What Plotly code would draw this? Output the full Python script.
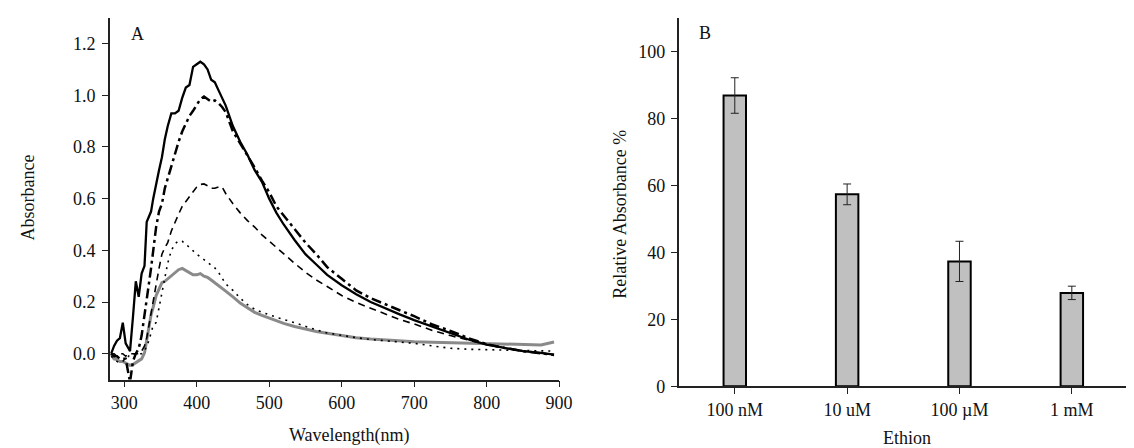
import plotly.graph_objects as go

# ---------------- Panel A data ----------------
wavelength = [282, 286, 290, 294, 298, 302, 306, 308, 312, 316, 320, 324, 328, 331, 334, 337, 340,
              344, 348, 352, 356, 360, 365, 370, 375, 380, 385, 390, 395, 400, 405, 410, 415, 420,
              425, 430, 435, 440, 450, 460, 470, 480, 490, 500, 510, 520, 535, 550, 565, 580, 600,
              620, 640, 660, 680, 700, 725, 750, 775, 800, 825, 850, 875, 893]

abs_solid = [0.00, 0.03, 0.05, 0.06, 0.12, 0.04, 0.02, 0.01, 0.14, 0.28, 0.22, 0.31, 0.34, 0.51, 0.53,
             0.55, 0.60, 0.66, 0.71, 0.76, 0.83, 0.88, 0.93, 0.93, 0.94, 0.99, 1.03, 1.04, 1.11, 1.12,
             1.13, 1.12, 1.10, 1.06, 1.05, 1.02, 0.99, 0.96, 0.88, 0.82, 0.77, 0.71, 0.665, 0.60,
             0.545, 0.50, 0.44, 0.385, 0.345, 0.305, 0.265, 0.23, 0.20, 0.175, 0.152, 0.13, 0.105,
             0.082, 0.055, 0.035, 0.022, 0.01, 0.003, -0.004]

abs_dashdot = [0.00, -0.01, -0.01, -0.02, -0.02, -0.02, -0.08, -0.11, -0.03, 0.00, 0.02, 0.07, 0.15,
               0.22, 0.27, 0.33, 0.41, 0.49, 0.55, 0.58, 0.64, 0.68, 0.73, 0.78, 0.82, 0.86, 0.89, 0.92,
               0.94, 0.96, 0.985, 0.995, 0.985, 0.975, 0.98, 0.97, 0.955, 0.935, 0.86, 0.815, 0.77,
               0.72, 0.67, 0.625, 0.57, 0.535, 0.48, 0.43, 0.385, 0.335, 0.29, 0.245, 0.215, 0.19,
               0.168, 0.145, 0.113, 0.088, 0.06, 0.037, 0.022, 0.01, 0.002, -0.005]

abs_dashed = [0.00, 0.00, -0.01, 0.00, 0.00, -0.01, 0.00, 0.00, 0.00, 0.00, 0.00, 0.01, 0.03, 0.06,
              0.11, 0.166, 0.21, 0.267, 0.33, 0.385, 0.41, 0.43, 0.475, 0.51, 0.54, 0.57, 0.59, 0.61,
              0.63, 0.645, 0.655, 0.657, 0.65, 0.64, 0.64, 0.645, 0.645, 0.62, 0.58, 0.545, 0.515,
              0.49, 0.46, 0.435, 0.41, 0.385, 0.35, 0.315, 0.285, 0.26, 0.225, 0.198, 0.175, 0.152,
              0.132, 0.115, 0.09, 0.07, 0.052, 0.035, 0.022, 0.01, 0.002, -0.004]

abs_dotted = [-0.01, -0.02, -0.03, -0.035, -0.03, -0.02, -0.01, 0.00, 0.00, 0.00, 0.00, 0.00, 0.01,
              0.03, 0.05, 0.08, 0.11, 0.12, 0.18, 0.24, 0.30, 0.35, 0.40, 0.425, 0.437, 0.435, 0.424,
              0.41, 0.40, 0.385, 0.375, 0.365, 0.352, 0.345, 0.332, 0.315, 0.29, 0.27, 0.245, 0.215,
              0.19, 0.172, 0.16, 0.15, 0.14, 0.132, 0.12, 0.105, 0.092, 0.08, 0.07, 0.062, 0.055,
              0.05, 0.045, 0.04, 0.03, 0.021, 0.017, 0.015, 0.013, 0.012, 0.011, 0.01]

abs_gray = [0.00, -0.02, -0.023, -0.03, -0.03, -0.035, -0.04, -0.045, -0.042, -0.035, -0.025, -0.02,
            0.003, 0.05, 0.11, 0.15, 0.18, 0.225, 0.25, 0.275, 0.28, 0.29, 0.30, 0.315, 0.325, 0.33,
            0.322, 0.315, 0.305, 0.305, 0.31, 0.30, 0.295, 0.285, 0.275, 0.265, 0.254, 0.242, 0.22,
            0.196, 0.178, 0.16, 0.148, 0.137, 0.127, 0.117, 0.105, 0.095, 0.086, 0.079, 0.07, 0.062,
            0.057, 0.053, 0.049, 0.046, 0.044, 0.042, 0.04, 0.038, 0.036, 0.035, 0.034, 0.045]

xticks_a = [300, 400, 500, 600, 700, 800, 900]
yticks_a = [0.0, 0.2, 0.4, 0.6, 0.8, 1.0, 1.2]

# ---------------- Panel B data ----------------
ethion_labels = ["100 nM", "10 uM", "100 µM", "1 mM"]
rel_abs = [86.8, 57.3, 37.3, 27.9]
rel_err = [5.3, 3.1, 6.0, 2.0]
yticks_b = [0, 20, 40, 60, 80, 100]

FONT = "Liberation Serif, Times New Roman, serif"
W, H = 1134, 448

fig = go.Figure()

line_specs = [
    (abs_gray, dict(color="#8a8a8a", width=3)),
    (abs_dotted, dict(color="black", width=1.6, dash="2px,5px")),
    (abs_dashed, dict(color="black", width=1.6, dash="7px,5px")),
    (abs_dashdot, dict(color="black", width=2.5, dash="10px,4px,3px,4px")),
    (abs_solid, dict(color="black", width=2.3)),
]
for ys, ln in line_specs:
    fig.add_trace(go.Scatter(x=wavelength, y=ys, mode="lines", line=ln,
                             xaxis="x", yaxis="y", showlegend=False))

fig.add_trace(go.Bar(x=ethion_labels, y=rel_abs, width=0.2,
                     marker=dict(color="#c0c0c0", line=dict(color="black", width=2)),
                     error_y=dict(type="data", array=rel_err, visible=True,
                                  color="#222", thickness=1, width=4),
                     xaxis="x2", yaxis="y2", showlegend=False))

axis_common = dict(showline=True, linecolor="#222", linewidth=1.5, ticks="outside",
                   ticklen=6, tickwidth=1.3, tickcolor="#222", showgrid=False, zeroline=False,
                   tickfont=dict(family=FONT, size=18, color="#111"))

fig.update_layout(
    width=W, height=H,
    margin=dict(l=0, r=0, t=0, b=0),
    paper_bgcolor="white", plot_bgcolor="white",
    font=dict(family=FONT, size=18, color="#111"),
    xaxis=dict(domain=[103 / W, 558 / W], range=[280, 900], tickvals=xticks_a,
               anchor="y", **axis_common),
    yaxis=dict(domain=[(H - 380) / H, (H - 10) / H], range=[-0.1, 1.3], tickvals=yticks_a,
               tickformat=".1f", anchor="x", ticklabelstandoff=3, **axis_common),
    xaxis2=dict(domain=[679 / W, 1.0], range=[-0.5, 3.5], type="category",
                anchor="y2", **axis_common),
    yaxis2=dict(domain=[(H - 387) / H, (H - 10) / H], range=[0, 110], tickvals=yticks_b,
                anchor="x2", ticklabelstandoff=2, **axis_common),
    bargap=0.8,
)

def ann(text, x, y, angle=0, size=18):
    fig.add_annotation(text=text, x=x / W, y=1 - y / H, xref="paper", yref="paper",
                       showarrow=False, textangle=angle, xanchor="center", yanchor="middle",
                       font=dict(family=FONT, size=size, color="#111"))

ann("A", 131, 27)
ann("B", 706, 26)
ann("Absorbance", 20, 194, angle=-90)
ann("Wavelength(nm)", 346, 437)
ann("Relative Absorbance %", 620, 211, angle=-90)
ann("Ethion", 910, 440)

fig.write_html("out.html")
